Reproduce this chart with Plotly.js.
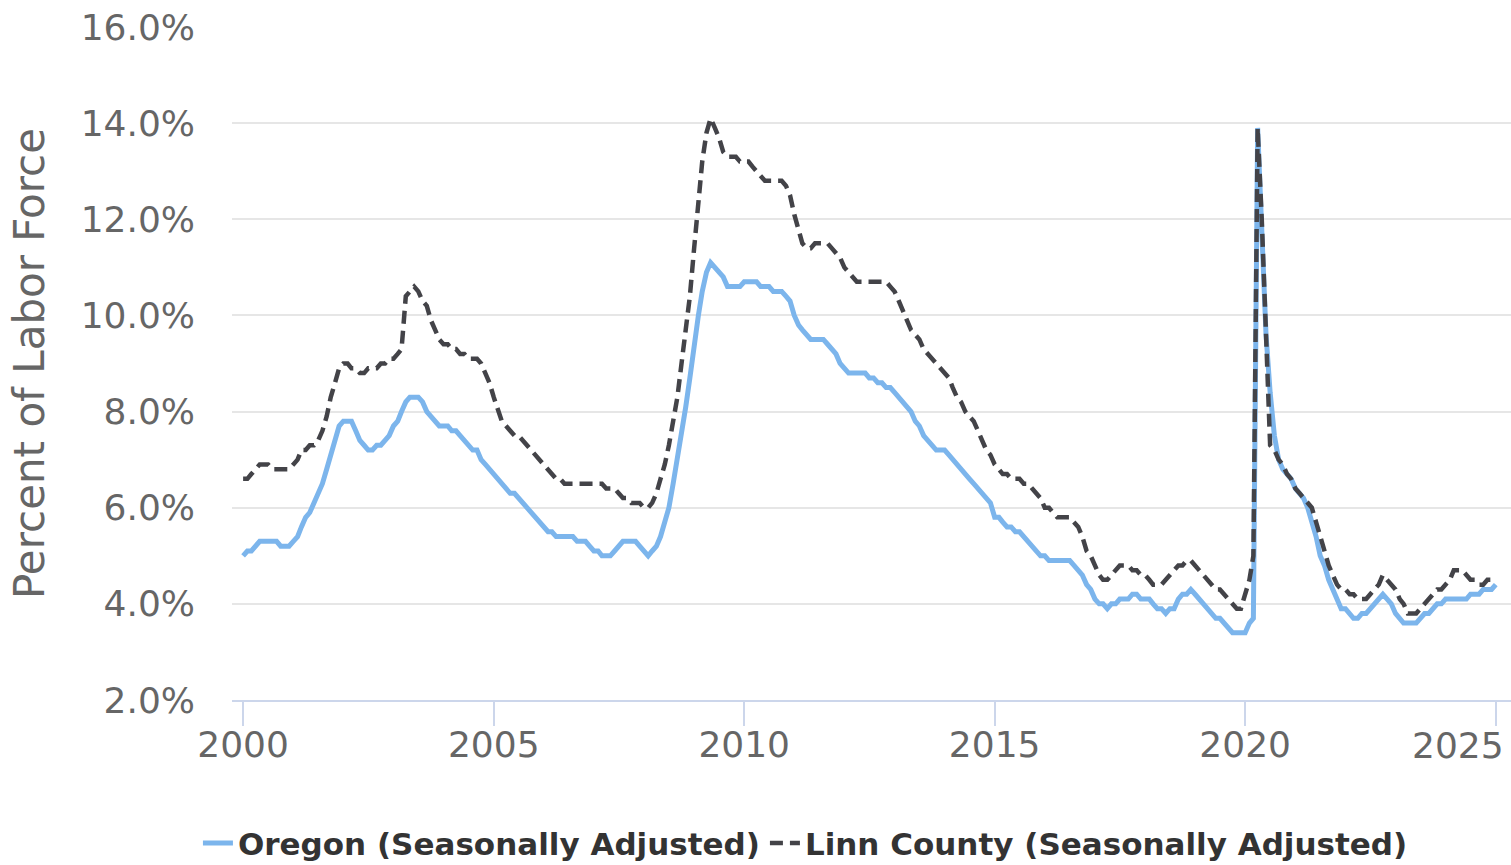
<!DOCTYPE html>
<html>
<head>
<meta charset="utf-8">
<script src="https://cdn.plot.ly/plotly-3.0.1.min.js"></script>
<style>
  html, body { margin: 0; padding: 0; background: #fff; }
  #chart { width: 1511px; height: 865px; }
</style>
</head>
<body>
<div id="chart"></div>
<script>
// monthly unemployment rate, Jan 2000 onwards (one row per year)
const oregonRate = [
  5.0, 5.1, 5.1, 5.2, 5.3, 5.3, 5.3, 5.3, 5.3, 5.2, 5.2, 5.2,        // 2000
  5.3, 5.4, 5.6, 5.8, 5.9, 6.1, 6.3, 6.5, 6.8, 7.1, 7.4, 7.7,        // 2001
  7.8, 7.8, 7.8, 7.6, 7.4, 7.3, 7.2, 7.2, 7.3, 7.3, 7.4, 7.5,        // 2002
  7.7, 7.8, 8.0, 8.2, 8.3, 8.3, 8.3, 8.2, 8.0, 7.9, 7.8, 7.7,        // 2003
  7.7, 7.7, 7.6, 7.6, 7.5, 7.4, 7.3, 7.2, 7.2, 7.0, 6.9, 6.8,        // 2004
  6.7, 6.6, 6.5, 6.4, 6.3, 6.3, 6.2, 6.1, 6.0, 5.9, 5.8, 5.7,        // 2005
  5.6, 5.5, 5.5, 5.4, 5.4, 5.4, 5.4, 5.4, 5.3, 5.3, 5.3, 5.2,        // 2006
  5.1, 5.1, 5.0, 5.0, 5.0, 5.1, 5.2, 5.3, 5.3, 5.3, 5.3, 5.2,        // 2007
  5.1, 5.0, 5.1, 5.2, 5.4, 5.7, 6.0, 6.5, 7.0, 7.5, 8.1, 8.7,        // 2008
  9.4, 10.0, 10.5, 10.9, 11.1, 11.0, 10.9, 10.8, 10.6, 10.6, 10.6, 10.6, // 2009
  10.7, 10.7, 10.7, 10.7, 10.6, 10.6, 10.6, 10.5, 10.5, 10.5, 10.4, 10.3, // 2010
  10.0, 9.8, 9.7, 9.6, 9.5, 9.5, 9.5, 9.5, 9.4, 9.3, 9.2, 9.0,       // 2011
  8.9, 8.8, 8.8, 8.8, 8.8, 8.8, 8.7, 8.7, 8.6, 8.6, 8.5, 8.5,        // 2012
  8.4, 8.3, 8.2, 8.1, 8.0, 7.8, 7.7, 7.5, 7.4, 7.3, 7.2, 7.2,        // 2013
  7.2, 7.1, 7.0, 6.9, 6.8, 6.7, 6.6, 6.5, 6.4, 6.3, 6.2, 6.1,        // 2014
  5.8, 5.8, 5.7, 5.6, 5.6, 5.5, 5.5, 5.4, 5.3, 5.2, 5.1, 5.0,        // 2015
  5.0, 4.9, 4.9, 4.9, 4.9, 4.9, 4.9, 4.8, 4.7, 4.6, 4.4, 4.3,        // 2016
  4.1, 4.0, 4.0, 3.9, 4.0, 4.0, 4.1, 4.1, 4.1, 4.2, 4.2, 4.1,        // 2017
  4.1, 4.1, 4.0, 3.9, 3.9, 3.8, 3.9, 3.9, 4.1, 4.2, 4.2, 4.3,        // 2018
  4.2, 4.1, 4.0, 3.9, 3.8, 3.7, 3.7, 3.6, 3.5, 3.4, 3.4, 3.4,        // 2019
  3.4, 3.6, 3.7, 13.9, 11.8, 9.6, 8.4, 7.5, 7.0, 6.8, 6.7, 6.6,      // 2020
  6.4, 6.3, 6.2, 6.0, 5.7, 5.4, 5.0, 4.8, 4.5, 4.3, 4.1, 3.9,        // 2021
  3.9, 3.8, 3.7, 3.7, 3.8, 3.8, 3.9, 4.0, 4.1, 4.2, 4.1, 4.0,        // 2022
  3.8, 3.7, 3.6, 3.6, 3.6, 3.6, 3.7, 3.8, 3.8, 3.9, 4.0, 4.0,        // 2023
  4.1, 4.1, 4.1, 4.1, 4.1, 4.1, 4.2, 4.2, 4.2, 4.3, 4.3, 4.3,        // 2024
  4.4                                                                // 2025
];

const linnRate = [
  6.6, 6.6, 6.7, 6.8, 6.9, 6.9, 6.9, 6.8, 6.8, 6.8, 6.8, 6.8,        // 2000
  6.9, 7.0, 7.2, 7.2, 7.3, 7.3, 7.4, 7.6, 7.9, 8.3, 8.6, 8.9,        // 2001
  9.0, 9.0, 8.9, 8.9, 8.8, 8.8, 8.9, 8.9, 8.9, 9.0, 9.0, 9.1,        // 2002
  9.1, 9.2, 9.3, 10.4, 10.5, 10.6, 10.5, 10.3, 10.2, 9.9, 9.7, 9.5,  // 2003
  9.4, 9.4, 9.3, 9.3, 9.2, 9.2, 9.1, 9.1, 9.1, 9.0, 8.8, 8.6,        // 2004
  8.3, 8.0, 7.8, 7.7, 7.6, 7.5, 7.5, 7.4, 7.3, 7.2, 7.1, 7.0,        // 2005
  6.9, 6.8, 6.7, 6.6, 6.6, 6.5, 6.5, 6.5, 6.5, 6.5, 6.5, 6.5,        // 2006
  6.5, 6.5, 6.5, 6.4, 6.4, 6.4, 6.3, 6.2, 6.2, 6.1, 6.1, 6.1,        // 2007
  6.0, 6.0, 6.1, 6.3, 6.6, 6.9, 7.3, 7.8, 8.3, 9.0, 9.7, 10.4,       // 2008
  11.4, 12.4, 13.2, 13.8, 14.1, 13.9, 13.7, 13.4, 13.3, 13.3, 13.3, 13.2, // 2009
  13.2, 13.2, 13.1, 13.0, 12.9, 12.8, 12.8, 12.8, 12.8, 12.8, 12.7, 12.5, // 2010
  12.1, 11.8, 11.5, 11.4, 11.4, 11.5, 11.5, 11.5, 11.5, 11.4, 11.3, 11.2, // 2011
  11.0, 10.9, 10.8, 10.7, 10.7, 10.7, 10.7, 10.7, 10.7, 10.7, 10.7, 10.6, // 2012
  10.5, 10.3, 10.1, 9.9, 9.7, 9.6, 9.5, 9.3, 9.2, 9.1, 9.0, 8.9,     // 2013
  8.8, 8.7, 8.5, 8.3, 8.2, 8.0, 7.9, 7.8, 7.6, 7.4, 7.2, 7.1,        // 2014
  6.9, 6.8, 6.7, 6.7, 6.6, 6.6, 6.6, 6.5, 6.5, 6.4, 6.3, 6.2,        // 2015
  6.0, 6.0, 5.9, 5.8, 5.8, 5.8, 5.8, 5.7, 5.6, 5.4, 5.1, 5.0,        // 2016
  4.8, 4.6, 4.5, 4.5, 4.6, 4.7, 4.8, 4.8, 4.8, 4.7, 4.7, 4.6,        // 2017
  4.6, 4.5, 4.4, 4.4, 4.4, 4.5, 4.6, 4.7, 4.8, 4.8, 4.9, 4.9,        // 2018
  4.8, 4.7, 4.6, 4.5, 4.4, 4.3, 4.3, 4.2, 4.1, 4.0, 3.9, 3.9,        // 2019
  4.2, 4.5, 5.0, 13.9, 12.0, 9.8, 7.3, 7.2, 7.0, 6.9, 6.7, 6.6,      // 2020
  6.4, 6.3, 6.2, 6.1, 6.0, 5.7, 5.4, 5.1, 4.8, 4.6, 4.4, 4.3,        // 2021
  4.3, 4.2, 4.2, 4.1, 4.1, 4.1, 4.2, 4.3, 4.4, 4.6, 4.5, 4.4,        // 2022
  4.3, 4.1, 4.0, 3.8, 3.8, 3.8, 3.9, 4.0, 4.1, 4.2, 4.3, 4.3,        // 2023
  4.4, 4.5, 4.7, 4.7, 4.7, 4.6, 4.5, 4.5, 4.4, 4.4, 4.5, 4.5         // 2024
];

const startYear = 2000;
const lastTickYear = 2025;
const yTicks = [2, 4, 6, 8, 10, 12, 14, 16];

function months(n) {
  return Array.from({ length: n }, (_, i) =>
    `${startYear + Math.floor(i / 12)}-${String(i % 12 + 1).padStart(2, "0")}-01`);
}

const font = "DejaVu Sans, sans-serif";

const traces = [
  {
    x: months(oregonRate.length),
    y: oregonRate,
    name: "Oregon (Seasonally Adjusted)",
    mode: "lines",
    line: { color: "#7cb5ec", width: 5 }
  },
  {
    x: months(linnRate.length),
    y: linnRate,
    name: "Linn County (Seasonally Adjusted)",
    mode: "lines",
    line: { color: "#434348", width: 4.5, dash: "13px,7px" }
  }
];

const layout = {
  width: 1511,
  height: 865,
  margin: { l: 232, r: 0, t: 27, b: 165 },
  paper_bgcolor: "#fff",
  plot_bgcolor: "#fff",
  font: { family: font, color: "#666" },
  showlegend: true,
  xaxis: {
    type: "date",
    range: ["1999-10-12", "2025-04-22"],
    tick0: "2000-01-01",
    dtick: "M60",
    tickformat: "%Y",
    tickfont: { size: 36, color: "#666" },
    ticklabelstandoff: -12,
    showgrid: false,
    zeroline: false,
    showline: true,
    linecolor: "#ccd6eb",
    linewidth: 2,
    ticks: "outside",
    ticklen: 24,
    tickwidth: 2,
    tickcolor: "#ccd6eb"
  },
  yaxis: {
    range: [2, 16],
    tickvals: yTicks,
    ticktext: yTicks.map(v => v.toFixed(1) + "%"),
    tickfont: { size: 36, color: "#666" },
    ticklabelstandoff: 36,
    showgrid: true,
    gridcolor: "#e6e6e6",
    gridwidth: 2,
    zeroline: false,
    showline: false,
    title: {
      text: "Percent of Labor Force",
      font: { size: 42, color: "#666" },
      standoff: 22
    }
  },
  // the last year label sits flush against the right edge, like the original
  annotations: [{
    text: String(lastTickYear),
    x: `${lastTickYear}-01-01`,
    xref: "x",
    xanchor: "right",
    xshift: 10,
    y: -0.067,
    yref: "paper",
    yanchor: "middle",
    showarrow: false,
    font: { family: font, size: 36, color: "#666" }
  }],
  legend: {
    orientation: "h",
    xref: "container",
    yref: "container",
    x: 0.131,
    xanchor: "left",
    y: 0.025,
    yanchor: "middle",
    font: { family: font, size: 31, color: "#333", weight: "bold" },
    bgcolor: "rgba(0,0,0,0)"
  }
};

Plotly.newPlot("chart", traces, layout, { staticPlot: true });
</script>
</body>
</html>
